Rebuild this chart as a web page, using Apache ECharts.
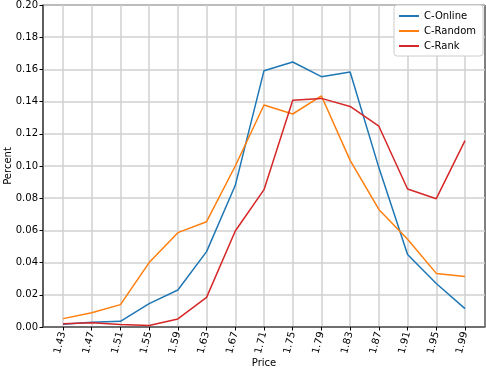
<!DOCTYPE html>
<html>
<head>
<meta charset="utf-8">
<script src="https://cdn.jsdelivr.net/npm/echarts@6/dist/echarts.min.js"></script>
<style>
html,body{margin:0;padding:0;background:#fff;}
#chart{width:486px;height:370px;}
</style>
</head>
<body>
<div id="chart"></div>
<script>
const categories = ['1.43','1.47','1.51','1.55','1.59','1.63','1.67','1.71','1.75','1.79','1.83','1.87','1.91','1.95','1.99'];
const cOnline = [0.0017,0.003,0.0035,0.0145,0.023,0.0468,0.088,0.1592,0.1646,0.1555,0.1584,0.099,0.045,0.027,0.0114];
const cRandom = [0.0052,0.0089,0.0139,0.040,0.0586,0.0654,0.100,0.1379,0.1323,0.1435,0.1035,0.0730,0.0545,0.0333,0.0313];
const cRank = [0.002,0.0027,0.0015,0.0009,0.005,0.0184,0.0596,0.0853,0.1408,0.142,0.137,0.1247,0.0857,0.0797,0.1158];
const yTicks = {min:0, max:0.2, interval:0.02};

const font = 'DejaVu Sans';
const chart = echarts.init(document.getElementById('chart'), null, {renderer:'canvas'});
const mk = (name, data, color) => ({
  name, type:'line', data, xAxisIndex:1, yAxisIndex:1,
  showSymbol:false, symbol:'none', lineStyle:{color, width:1.5}, itemStyle:{color},
  z:5
});
chart.setOption({
  animation:false,
  textStyle:{fontFamily:font},
  grid:[
    {left:43, top:5, width:442, height:322, show:true, borderColor:'#000', borderWidth:1, backgroundColor:'transparent', outerBoundsMode:'none', containLabel:false},
    {left:63, top:5, width:402, height:322, outerBoundsMode:'none', containLabel:false}
  ],
  legend:{
    orient:'vertical', right:3, top:5,
    data:['C-Online','C-Random','C-Rank'],
    icon:'rect', itemWidth:20, itemHeight:2, itemGap:5,
    backgroundColor:'#fff', borderColor:'#ccc', borderWidth:1, borderRadius:3,
    padding:[6,7,5,5],
    textStyle:{fontFamily:font, fontSize:10, color:'#000'}
  },
  xAxis:[
    {type:'value', gridIndex:0, min:0, max:1, show:true,
     axisLine:{show:true, lineStyle:{color:'#555', width:1.5}},
     axisTick:{show:false}, axisLabel:{show:false}, splitLine:{show:false}},
    {type:'category', gridIndex:1, data:categories, boundaryGap:false,
     axisLine:{show:false},
     axisTick:{show:true, length:3.5, lineStyle:{color:'#000'}},
     axisLabel:{rotate:75, fontSize:10, color:'#000', fontFamily:font, margin:5},
     splitLine:{show:true, lineStyle:{color:'#d0d0d0', width:1.5}},
     name:'Price', nameLocation:'middle', nameGap:31, nameMoveOverlap:false,
     nameTextStyle:{fontSize:10, color:'#000', fontFamily:font}}
  ],
  yAxis:[
    {type:'value', gridIndex:0, min:yTicks.min, max:yTicks.max, interval:yTicks.interval,
     axisLine:{show:true, lineStyle:{color:'#555', width:1.5}},
     axisTick:{show:true, length:3.5, lineStyle:{color:'#000'}},
     axisLabel:{fontSize:10, color:'#000', fontFamily:font, margin:5, formatter:v=>v.toFixed(2)},
     splitLine:{show:true, lineStyle:{color:'#d0d0d0', width:1.5}},
     name:'Percent', nameLocation:'middle', nameGap:30, nameMoveOverlap:false,
     nameTextStyle:{fontSize:10, color:'#000', fontFamily:font}},
    {type:'value', gridIndex:1, min:yTicks.min, max:yTicks.max, show:false, splitLine:{show:false}}
  ],
  series:[
    mk('C-Online', cOnline, '#1f77b4'),
    mk('C-Random', cRandom, '#ff7f0e'),
    mk('C-Rank', cRank, '#d62728')
  ]
});
</script>
</body>
</html>
